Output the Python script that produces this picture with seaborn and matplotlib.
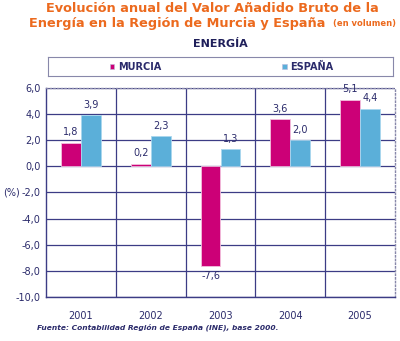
import matplotlib
matplotlib.use("Agg")
import matplotlib.pyplot as plt
import seaborn as sns
import pandas as pd
from matplotlib.patches import Rectangle

years = ["2001", "2002", "2003", "2004", "2005"]
murcia = [1.8, 0.2, -7.6, 3.6, 5.1]
espana = [3.9, 2.3, 1.3, 2.0, 4.4]
series_names = ["MURCIA", "ESPAÑA"]
yticks = [6, 4, 2, 0, -2, -4, -6, -8, -10]

NAVY = "#2B2B6B"
ORANGE = "#EC6A1E"
MAG = "#CC0077"
BLUE = "#5BAFD9"

df = pd.DataFrame({
    "year": years * 2,
    "value": murcia + espana,
    "serie": [series_names[0]] * len(years) + [series_names[1]] * len(years),
})

sns.set_style("white")
plt.rcParams["font.family"] = ["DejaVu Sans"]

fig = plt.figure(figsize=(4.0, 3.41), dpi=100)
ax = fig.add_axes([0.115, 0.129, 0.8725, 0.613])

sns.barplot(data=df, x="year", y="value", hue="serie", order=years,
            hue_order=series_names, palette=[MAG, BLUE], width=0.57,
            dodge=True, ax=ax, legend=False, saturation=1,
            edgecolor="#f3c0dd", linewidth=0.6, zorder=3)
for p in ax.patches[len(years):]:
    p.set_edgecolor("#a9d6ee")

for cont in ax.containers:
    labels = [f"{v:.1f}".replace(".", ",") for v in cont.datavalues]
    ax.bar_label(cont, labels=labels, padding=4, fontsize=7, color=NAVY)

ax.set_ylim(-10, 6)
ax.set_xlim(-0.5, 4.5)
ax.set_yticks(yticks)
ax.set_yticklabels([f"{v:.1f}".replace(".", ",") for v in yticks],
                   fontsize=7, color=NAVY)
ax.set_xticks(range(len(years)))
ax.set_xticklabels(years, fontsize=7, color=NAVY)
ax.tick_params(axis="x", which="major", length=0, pad=10)
ax.set_xticks([0.5, 1.5, 2.5, 3.5], minor=True)
ax.tick_params(axis="x", which="minor", length=4, color=NAVY, width=1, direction="out")
ax.tick_params(axis="y", length=2, color=NAVY, width=1, direction="out", pad=2)
ax.yaxis.grid(True, color="#3C3C85", linewidth=0.9, zorder=0)
ax.xaxis.grid(True, which="minor", color="#3C3C85", linewidth=0.9, zorder=0)
ax.xaxis.grid(False, which="major")
ax.set_axisbelow(True)
ax.set_xlabel("")
ax.set_ylabel("")
for s in ["left", "bottom"]:
    ax.spines[s].set_color("#3C3C85")
    ax.spines[s].set_linewidth(1)
for s in ["top", "right"]:
    ax.spines[s].set_color("#8888AA")
    ax.spines[s].set_linestyle(":")
    ax.spines[s].set_linewidth(1)

fig.text(0.008, 0.742 - (6 - (-2)) / 16 * 0.613, "(%)", fontsize=7,
         color=NAVY, ha="left", va="center")

fig.text(0.53, 0.994, "Evolución anual del Valor Añadido Bruto de la",
         fontsize=9.3, fontweight="bold", color=ORANGE, ha="center", va="top")
fig.text(0.073, 0.950, "Energía en la Región de Murcia y España",
         fontsize=9.3, fontweight="bold", color=ORANGE, ha="left", va="top")
fig.text(0.832, 0.943, "(en volumen)", fontsize=6, fontweight="bold",
         color=ORANGE, ha="left", va="top")
fig.text(0.55, 0.885, "ENERGÍA", fontsize=8, fontweight="bold", color="#1F1F5A",
         ha="center", va="top")

# legend box
lg = fig.add_axes([0.12, 0.777, 0.862, 0.056])
lg.set_xlim(0, 1)
lg.set_ylim(0, 1)
lg.set_xticks([])
lg.set_yticks([])
for s in lg.spines.values():
    s.set_color("#8888AA")
    s.set_linewidth(0.8)
for x0, col, name in [(0.18, MAG, series_names[0]), (0.68, BLUE, series_names[1])]:
    lg.add_patch(Rectangle((x0, 0.35), 0.012, 0.3, facecolor=col,
                           edgecolor="#bbbbdd", linewidth=0.4))
    lg.text(x0 + 0.022, 0.48, name, fontsize=7, fontweight="bold",
            color=NAVY, va="center", ha="left")

fig.text(0.093, 0.04, "Fuente: Contabilidad Región de España (INE), base 2000.",
         fontsize=5.4, fontstyle="italic", fontweight="bold", color=NAVY,
         ha="left", va="center")

fig.savefig("out.png", dpi=100)
